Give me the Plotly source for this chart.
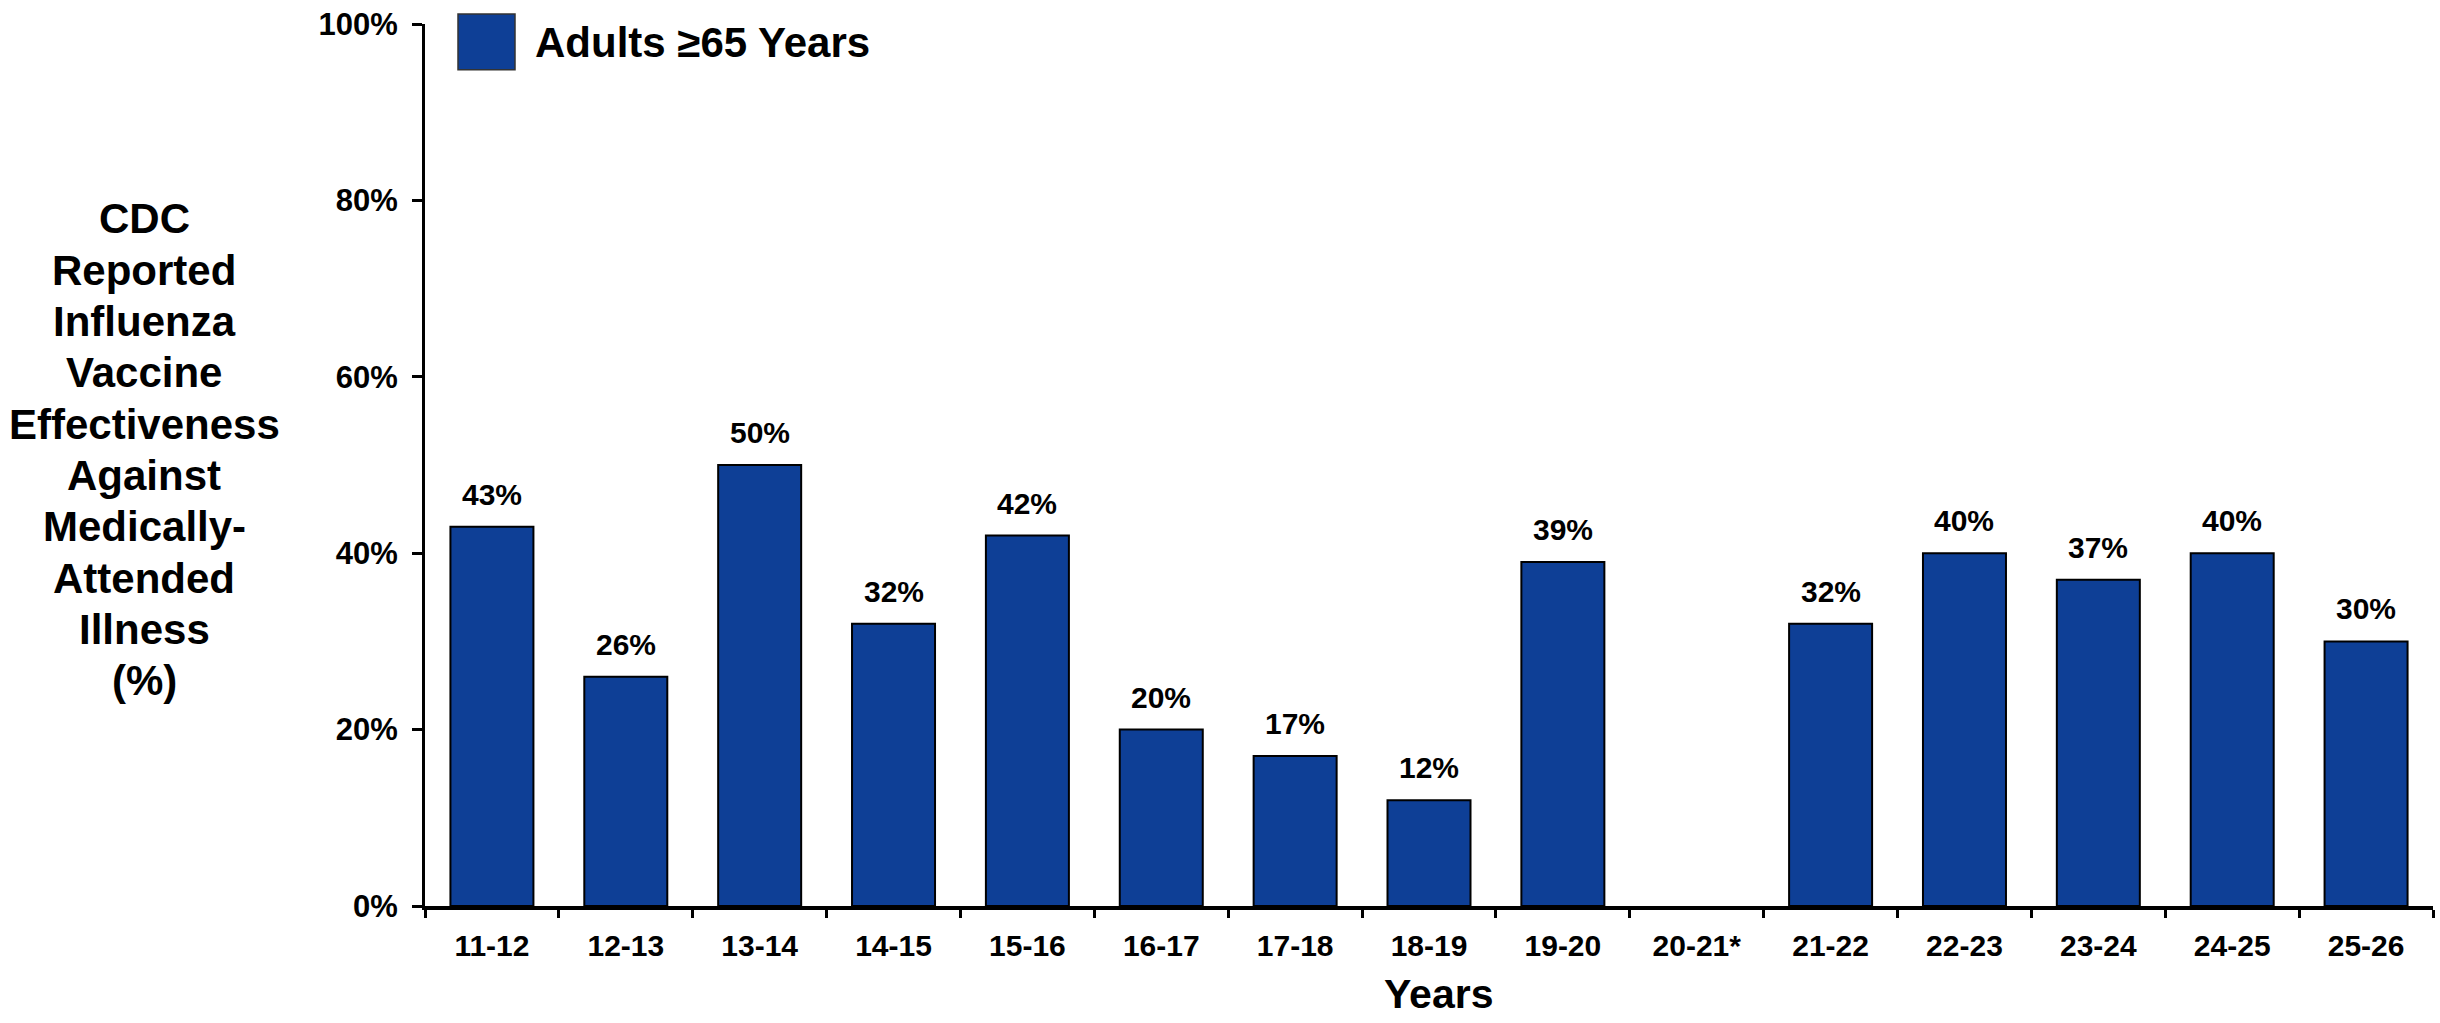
import plotly.graph_objects as go

# ---- data ----
seasons = ["11-12", "12-13", "13-14", "14-15", "15-16", "16-17", "17-18", "18-19",
           "19-20", "20-21*", "21-22", "22-23", "23-24", "24-25", "25-26"]
ve_values = [43, 26, 50, 32, 42, 20, 17, 12, 39, None, 32, 40, 37, 40, 30]
series_name = "Adults ≥65 Years"
y_ticks = [0, 20, 40, 60, 80, 100]
y_title_lines = ["CDC", "Reported", "Influenza", "Vaccine", "Effectiveness",
                 "Against", "Medically-", "Attended", "Illness", "(%)"]
x_title = "Years"

BAR_COLOR = "#0E3F96"
FONT = "Liberation Sans, Arial, Helvetica, sans-serif"

W, H = 2440, 1023
ML, MR, MT, MB = 425, 7, 19, 117
PW = W - ML - MR
PH = H - MT - MB


def px_x(px):
    return (px - ML) / PW


def px_y(py):
    return (H - MB - py) / PH


fig = go.Figure()
fig.add_trace(go.Bar(
    x=seasons, y=ve_values, name=series_name,
    marker=dict(color=BAR_COLOR, line=dict(color="black", width=2)),
    showlegend=False,
))

annotations = []
for s, v in zip(seasons, ve_values):
    if v is None:
        continue
    annotations.append(dict(
        x=s, y=v, xref="x", yref="y", text=f"{v}%", showarrow=False,
        yanchor="bottom", yshift=14,
        font=dict(family=FONT, size=30, color="black", weight="bold"),
    ))

# y-axis title, one annotation per line
TITLE_FS = 42
first_center = 215
pitch = 51.6
for i, line in enumerate(y_title_lines):
    annotations.append(dict(
        x=px_x(144), y=px_y(first_center + i * pitch), xref="paper", yref="paper",
        text=line, showarrow=False, xanchor="center", yanchor="middle",
        font=dict(family=FONT, size=TITLE_FS, color="black", weight="bold"),
    ))
# x-axis title
annotations.append(dict(
    x=px_x(1438), y=px_y(1020), xref="paper", yref="paper",
    text=x_title, showarrow=False, xanchor="center", yanchor="bottom",
    font=dict(family=FONT, size=41, color="black", weight="bold"),
))
# legend text
annotations.append(dict(
    x=px_x(533), y=px_y(38), xref="paper", yref="paper",
    text=series_name, showarrow=False, xanchor="left", yanchor="middle",
    font=dict(family=FONT, size=42, color="black", weight="bold"),
))

shapes = [dict(
    type="rect", xref="paper", yref="paper",
    x0=px_x(458), x1=px_x(515), y0=px_y(65), y1=px_y(9),
    fillcolor=BAR_COLOR, line=dict(color="#333333", width=1.5),
)]

fig.update_layout(
    width=W, height=H,
    margin=dict(l=ML, r=MR, t=MT, b=MB, pad=0),
    paper_bgcolor="white", plot_bgcolor="white",
    bargap=0.38,
    annotations=annotations, shapes=shapes,
    font=dict(family=FONT, color="black"),
    showlegend=False,
)
fig.update_xaxes(
    type="category", showgrid=False, zeroline=False,
    showline=True, linecolor="black", linewidth=4,
    ticks="outside", tickson="boundaries", ticklen=8, tickwidth=3, tickcolor="black",
    tickfont=dict(family=FONT, size=30, color="black", weight="bold"),
    ticklabelstandoff=10,
)
fig.update_yaxes(
    range=[0, 100], tickvals=y_ticks, ticktext=[f"{t}%" for t in y_ticks],
    showgrid=False, zeroline=False,
    showline=True, linecolor="black", linewidth=3,
    ticks="outside", ticklen=10, tickwidth=3, tickcolor="black",
    tickfont=dict(family=FONT, size=31, color="black", weight="bold"),
    ticklabelstandoff=8,
)

fig.write_html("out.html")
